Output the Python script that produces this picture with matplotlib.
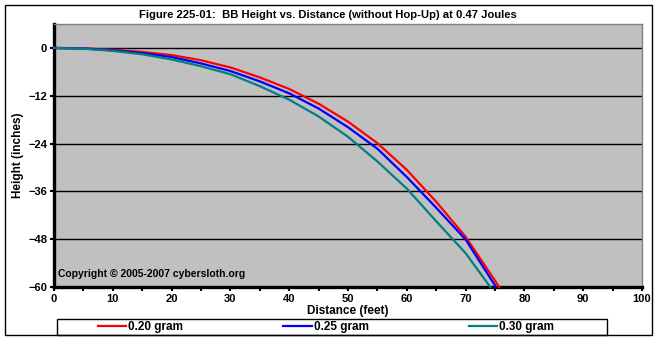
import matplotlib
matplotlib.use("Agg")
import matplotlib.pyplot as plt
from matplotlib.patches import Rectangle
from matplotlib.ticker import MultipleLocator

plt.rcParams['font.family'] = ['Liberation Sans', 'DejaVu Sans']
plt.rcParams['font.weight'] = 'bold'

# distance (feet) and drop (inches) for each BB weight
dist_020 = [0, 5, 10, 15, 20, 25, 30, 35, 40, 45, 50, 55, 60, 65, 70, 75, 75.7]
drop_020 = [0, -0.1, -0.45, -1.0, -1.8, -3.1, -4.9, -7.4, -10.3, -14.0, -18.5, -23.9,
            -30.6, -38.6, -47.4, -58.4, -60]

dist_025 = [0, 5, 10, 15, 20, 25, 30, 35, 40, 45, 50, 55, 60, 65, 70, 75, 75.1]
drop_025 = [0, -0.15, -0.6, -1.3, -2.3, -3.9, -5.8, -8.4, -11.4, -15.2, -19.9, -25.3,
            -32.4, -40.1, -48.1, -59.6, -60]

dist_030 = [0, 5, 10, 15, 20, 25, 30, 35, 40, 45, 50, 55, 60, 65, 70, 74.2]
drop_030 = [0, -0.2, -0.75, -1.6, -2.9, -4.6, -6.6, -9.6, -13.0, -17.2, -22.3, -28.5,
            -35.3, -43.5, -51.5, -60]

labels = ['0.20 gram', '0.25 gram', '0.30 gram']
colors = ['#FF0000', '#0000FF', '#008080']

W, H = 657, 340
fig = plt.figure(figsize=(W / 100, H / 100), dpi=100)
ax = fig.add_axes([54 / W, 1 - 287 / H, (642 - 54) / W, (287 - 24) / H])
ax.set_facecolor('#C0C0C0')

lines = []
for d, h, c, lab in zip([dist_020, dist_025, dist_030], [drop_020, drop_025, drop_030], colors, labels):
    ln, = ax.plot(d, h, color=c, lw=1.6, label=lab, zorder=3, clip_on=False)
    lines.append(ln)

ax.set_xlim(0, 100)
ax.set_ylim(-60, 6)
ax.set_yticks([0, -12, -24, -36, -48, -60])
ax.xaxis.set_major_locator(MultipleLocator(10))
ax.xaxis.set_minor_locator(MultipleLocator(5))
ax.grid(axis='y', color='black', lw=1)
ax.set_axisbelow(True)

for s in ['top', 'right']:
    ax.spines[s].set_color('#808080')
    ax.spines[s].set_linewidth(1)
for s in ['left', 'bottom']:
    ax.spines[s].set_color('black')
    ax.spines[s].set_linewidth(2.4)

ax.tick_params(axis='both', which='both', direction='out', length=3, width=1.5,
               labelsize=8, pad=2)

ax.set_xlabel('Distance (feet)', fontsize=8.5, fontweight='bold', labelpad=1)
fig.text(18 / W, 1 - 155 / H, 'Height (inches)', rotation=90, ha='center', va='center',
         fontsize=8.5, fontweight='bold')

fig.text(328 / W, 1 - 15 / H,
         'Figure 225-01:  BB Height vs. Distance (without Hop-Up) at 0.47 Joules',
         ha='center', va='center', fontsize=8.1, fontweight='bold')
ax.text(58 / W, 1 - 274 / H, 'Copyright \u00a9 2005-2007 cybersloth.org',
        transform=fig.transFigure, ha='left', va='center', fontsize=7.5, fontweight='bold')

# outer border and legend box
fig.patches.append(Rectangle((5 / W, 1 - 335 / H), 647 / W, 330 / H, transform=fig.transFigure,
                             fill=False, edgecolor='black', lw=1))
fig.patches.append(Rectangle((57 / W, 1 - 335 / H), 550 / W, 16 / H, transform=fig.transFigure,
                             fill=False, edgecolor='black', lw=1))
fig.legend(handles=lines, labels=labels, loc='center', bbox_to_anchor=(326 / W, 1 - 327 / H),
           ncol=3, frameon=False, fontsize=8.5, handlelength=2.4, handletextpad=0.15,
           columnspacing=8.5, borderpad=0)

fig.savefig('out.png', dpi=100)
